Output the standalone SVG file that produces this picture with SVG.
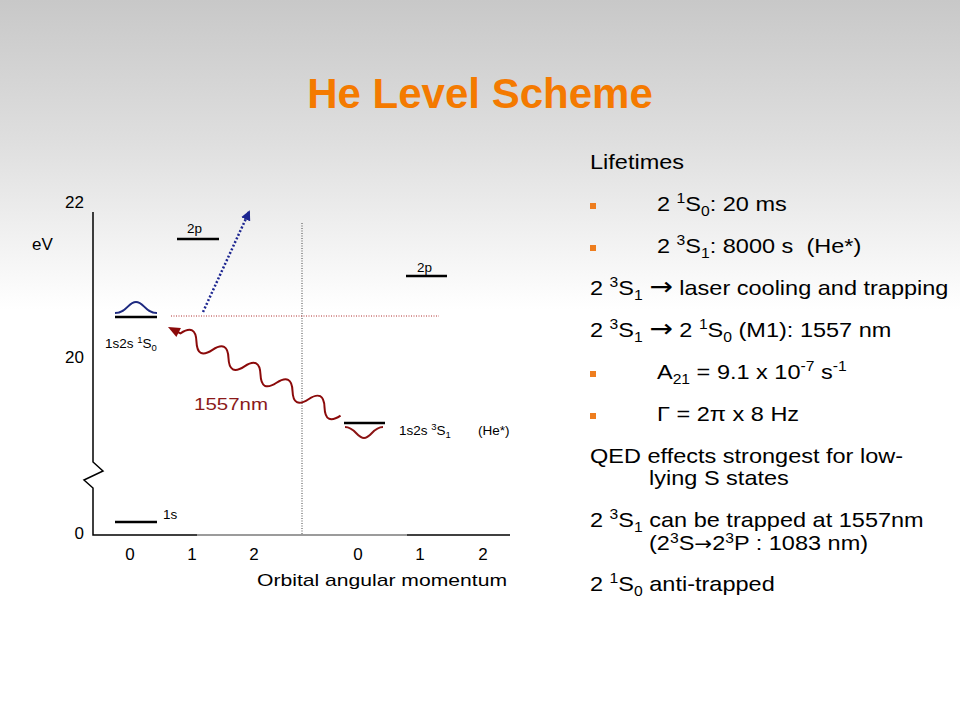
<svg xmlns="http://www.w3.org/2000/svg" width="960" height="720" viewBox="0 0 960 720">
<defs>
<linearGradient id="bg" x1="0" y1="0" x2="0" y2="1">
<stop offset="0" stop-color="#c8c8c8"/>
<stop offset="0.2" stop-color="#dfdfdf"/>
<stop offset="0.43" stop-color="#ffffff"/>
<stop offset="1" stop-color="#ffffff"/>
</linearGradient>
<marker id="blueHead" markerWidth="10" markerHeight="10" refX="8" refY="5" orient="auto" markerUnits="userSpaceOnUse">
<path d="M0,0 L10,5 L0,10 Z" fill="#1c2590"/>
</marker>
<style>
text{font-family:"Liberation Sans",Arial,sans-serif;fill:#000}
.ax{font-size:17px}
.sm{font-size:13.5px}
.rc{font-size:21px}
.sup{font-size:14px}
.ssm{font-size:9.5px}
.arr{font-family:"DejaVu Sans",sans-serif;font-size:25px}
.arr2{font-family:"DejaVu Sans",sans-serif;font-size:19px}
.lvl{stroke:#000;stroke-width:2.5;fill:none}
.bul{fill:#ee7d1e}
</style>
</defs>
<rect x="0" y="0" width="960" height="720" fill="url(#bg)"/>
<text x="480" y="108" text-anchor="middle" style="font-size:42px;font-weight:bold;fill:#f47a00">He Level Scheme</text>

<g id="axes" fill="none" stroke="#000" stroke-width="1.5">
<path d="M93,212 V462 L103,471 L84,480 L93,488 V535 H197"/>
<path d="M197,535 H407" stroke="#7a7a7a"/>
<path d="M407,535 H510"/>
</g>
<g id="axis-labels">
<text class="ax" x="84" y="208" text-anchor="end">22</text>
<text class="ax" x="32" y="250">eV</text>
<text class="ax" x="84" y="363" text-anchor="end">20</text>
<text class="ax" x="84" y="539" text-anchor="end">0</text>
<text class="ax" x="130" y="560" text-anchor="middle">0</text>
<text class="ax" x="192" y="560" text-anchor="middle">1</text>
<text class="ax" x="254" y="560" text-anchor="middle">2</text>
<text class="ax" x="358" y="560" text-anchor="middle">0</text>
<text class="ax" x="420" y="560" text-anchor="middle">1</text>
<text class="ax" x="483" y="560" text-anchor="middle">2</text>
<text class="ax" x="257" y="586" textLength="250" lengthAdjust="spacingAndGlyphs">Orbital angular momentum</text>
</g>

<g id="guides" fill="none" stroke-width="1">
<line x1="302" y1="223" x2="302" y2="535" stroke="#444" stroke-dasharray="1 1.5"/>
<line x1="171" y1="316" x2="439" y2="316" stroke="#b03030" stroke-dasharray="1 1.5"/>
</g>

<g id="level-2p-singlet">
<line class="lvl" x1="177" y1="239" x2="219" y2="239"/>
<text class="sm" x="187" y="233">2p</text>
</g>
<g id="level-2p-triplet">
<line class="lvl" x1="406" y1="276" x2="447" y2="276"/>
<text class="sm" x="417" y="272">2p</text>
</g>
<g id="level-1S0">
<path d="M115,313 C127,313 128,302 136,302 C144,302 145,313 157,313" fill="none" stroke="#1e2a80" stroke-width="2"/>
<line class="lvl" x1="115" y1="317" x2="157" y2="317"/>
<text class="sm" x="105" y="348">1s2s <tspan class="ssm" dy="-5">1</tspan><tspan dy="5">S</tspan><tspan class="ssm" dy="3">0</tspan></text>
</g>
<g id="level-3S1">
<line class="lvl" x1="344" y1="423" x2="385" y2="423"/>
<path d="M345,427 C355,427 357,438 364,438 C371,438 373,427 383,427" fill="none" stroke="#8b1414" stroke-width="2"/>
<text class="sm" x="399" y="435">1s2s <tspan class="ssm" dy="-5">3</tspan><tspan dy="5">S</tspan><tspan class="ssm" dy="3">1</tspan><tspan dy="-3" x="478">(He*)</tspan></text>
</g>
<g id="level-1s">
<line class="lvl" x1="115" y1="522" x2="157" y2="522"/>
<text class="sm" x="163" y="519">1s</text>
</g>

<g id="connectors">
<line x1="203" y1="312" x2="249" y2="212" stroke="#1c2590" stroke-width="2.5" stroke-dasharray="2 2" marker-end="url(#blueHead)"/>
<g transform="translate(168,327) rotate(27.2)">
<path d="M0,0 L12,-5 L12,5 Z" fill="#8b0a0a"/>
<path d="M10,0 L14,0 q9,-16 18,0 t18,0 t18,0 t18,0 t18,0 t18,0 t18,0 t18,0 t18,0 t18,0" fill="none" stroke="#8b0a0a" stroke-width="2"/>
</g>
<text x="194" y="410" style="font-size:17px;fill:#8b1a1a" textLength="74" lengthAdjust="spacingAndGlyphs">1557nm</text>
</g>

<g id="bullets">
<rect class="bul" x="590" y="203" width="6" height="6"/>
<rect class="bul" x="590" y="245" width="6" height="6"/>
<rect class="bul" x="590" y="371" width="6" height="6"/>
<rect class="bul" x="590" y="413" width="6" height="6"/>
</g>
<g id="notes" transform="matrix(1.12 0 0 1 -70.8 0)">
<text class="rc" x="590" y="169">Lifetimes</text>
<text class="rc" x="649.8" y="211">2 <tspan class="sup" dy="-8">1</tspan><tspan dy="8">S</tspan><tspan class="sup" dy="5">0</tspan><tspan dy="-5">: 20 ms</tspan></text>
<text class="rc" x="649.8" y="253">2 <tspan class="sup" dy="-8">3</tspan><tspan dy="8">S</tspan><tspan class="sup" dy="5">1</tspan><tspan dy="-5">: 8000 s &#160;(He*)</tspan></text>
<text class="rc" x="590" y="295">2 <tspan class="sup" dy="-8">3</tspan><tspan dy="8">S</tspan><tspan class="sup" dy="5">1</tspan><tspan dy="-5"> </tspan><tspan class="arr">→</tspan> laser cooling and trapping</text>
<text class="rc" x="590" y="337">2 <tspan class="sup" dy="-8">3</tspan><tspan dy="8">S</tspan><tspan class="sup" dy="5">1</tspan><tspan dy="-5"> </tspan><tspan class="arr">→</tspan> 2 <tspan class="sup" dy="-8">1</tspan><tspan dy="8">S</tspan><tspan class="sup" dy="5">0</tspan><tspan dy="-5"> (M1): 1557 nm</tspan></text>
<text class="rc" x="649.8" y="379">A<tspan class="sup" dy="5">21</tspan><tspan dy="-5"> = 9.1 x 10</tspan><tspan class="sup" dy="-8">-7</tspan><tspan dy="8"> s</tspan><tspan class="sup" dy="-8">-1</tspan></text>
<text class="rc" x="649.8" y="421">Γ = 2π x 8 Hz</text>
<text class="rc" x="590" y="463">QED effects strongest for low-</text>
<text class="rc" x="642.7" y="485">lying S states</text>
<text class="rc" x="590" y="527">2 <tspan class="sup" dy="-8">3</tspan><tspan dy="8">S</tspan><tspan class="sup" dy="5">1</tspan><tspan dy="-5"> can be trapped at 1557nm</tspan></text>
<text class="rc" x="642.7" y="550">(2<tspan class="sup" dy="-7">3</tspan><tspan dy="7">S</tspan><tspan class="arr2">→</tspan>2<tspan class="sup" dy="-7">3</tspan><tspan dy="7">P : 1083 nm)</tspan></text>
<text class="rc" x="590" y="591">2 <tspan class="sup" dy="-8">1</tspan><tspan dy="8">S</tspan><tspan class="sup" dy="5">0</tspan><tspan dy="-5"> anti-trapped</tspan></text>
</g>
</svg>
